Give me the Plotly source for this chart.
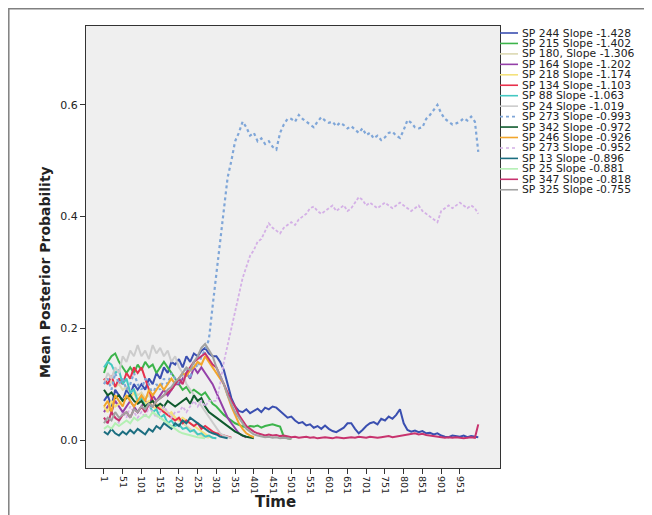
import plotly.graph_objects as go

time_steps = list(range(1, 992, 10)) + [1000]
tick_values = [1, 51, 101, 151, 201, 251, 301, 351, 401, 451, 501, 551, 601, 651, 701, 751, 801, 851, 901, 951]
tick_labels = ["1", "51", "101", "151", "201", "251", "301", "351", "401", "451", "501",
               "551", "601", "651", "701", "751", "801", "851", "901", "951"]
y_tick_values = [0.0, 0.2, 0.4, 0.6]
y_tick_labels = ["0.0", "0.2", "0.4", "0.6"]

sp244 = [0.07, 0.08, 0.06, 0.09, 0.08, 0.07, 0.09, 0.08, 0.10, 0.09,
         0.10, 0.09, 0.11, 0.10, 0.12, 0.11, 0.13, 0.12, 0.14, 0.135,
         0.145, 0.13, 0.15, 0.14, 0.155, 0.15, 0.16, 0.165, 0.155, 0.15,
         0.15, 0.14, 0.125, 0.10, 0.075, 0.06, 0.052, 0.05, 0.055, 0.048,
         0.052, 0.056, 0.05, 0.058, 0.055, 0.06, 0.058, 0.052, 0.047, 0.04,
         0.042, 0.035, 0.03, 0.032, 0.026, 0.028, 0.022, 0.025, 0.02, 0.026,
         0.02, 0.016, 0.014, 0.018, 0.022, 0.03, 0.03, 0.02, 0.012, 0.018,
         0.025, 0.03, 0.032, 0.028, 0.038, 0.035, 0.042, 0.038, 0.045, 0.055,
         0.03, 0.018, 0.015, 0.017, 0.014, 0.016, 0.012, 0.013, 0.01, 0.012,
         0.008, 0.006, 0.005, 0.008, 0.007, 0.006, 0.008, 0.005, 0.007, 0.006,
         0.005]
sp215 = [0.12, 0.14, 0.15, 0.155, 0.14, 0.13, 0.12, 0.13, 0.12, 0.135,
         0.125, 0.14, 0.13, 0.135, 0.12, 0.13, 0.14, 0.13, 0.12, 0.11,
         0.10, 0.09, 0.095, 0.085, 0.09, 0.085, 0.08, 0.085, 0.075, 0.065,
         0.06, 0.052, 0.045, 0.04, 0.035, 0.03, 0.027, 0.025, 0.022, 0.025,
         0.024, 0.026, 0.022, 0.025, 0.027, 0.028, 0.026, 0.024, 0.006, 0.003,
         0.002]
sp180 = [0.11, 0.10, 0.105, 0.095, 0.10, 0.09, 0.095, 0.085, 0.09, 0.08,
         0.085, 0.075, 0.08, 0.07, 0.065, 0.06, 0.055, 0.05, 0.045, 0.04,
         0.035, 0.03, 0.025, 0.02, 0.015, 0.01, 0.008, 0.006, 0.004]
sp164 = [0.05, 0.06, 0.05, 0.07, 0.06, 0.05, 0.06, 0.07, 0.06, 0.05,
         0.06, 0.07, 0.06, 0.08, 0.07, 0.08, 0.09, 0.08, 0.09, 0.10,
         0.10, 0.11, 0.12, 0.11, 0.13, 0.12, 0.13, 0.12, 0.11, 0.10,
         0.085, 0.07, 0.055, 0.04, 0.03, 0.02, 0.012, 0.008, 0.005]
sp218 = [0.06, 0.05, 0.07, 0.06, 0.065, 0.07, 0.08, 0.075, 0.085, 0.07,
         0.08, 0.065, 0.07, 0.06, 0.055, 0.06, 0.05, 0.045, 0.05, 0.04,
         0.035, 0.04, 0.035, 0.03, 0.025, 0.02, 0.015, 0.01, 0.006, 0.004]
sp134 = [0.11, 0.10, 0.115, 0.095, 0.11, 0.10, 0.12, 0.11, 0.13, 0.12,
         0.13, 0.11, 0.09, 0.07, 0.06, 0.055, 0.05, 0.045, 0.04, 0.035,
         0.04, 0.03, 0.035, 0.03, 0.025, 0.03, 0.02, 0.025, 0.02, 0.015,
         0.012, 0.01, 0.008, 0.006, 0.004]
sp88 = [0.13, 0.14, 0.135, 0.12, 0.125, 0.10, 0.11, 0.085, 0.09, 0.07,
        0.075, 0.06, 0.065, 0.05, 0.055, 0.04, 0.045, 0.03, 0.035, 0.025,
        0.028, 0.02, 0.022, 0.015, 0.018, 0.01, 0.012, 0.006, 0.008, 0.004,
        0.003]
sp24 = [0.10, 0.12, 0.11, 0.13, 0.12, 0.15, 0.14, 0.16, 0.15, 0.17,
        0.15, 0.16, 0.145, 0.17, 0.155, 0.165, 0.15, 0.16, 0.14, 0.15,
        0.13, 0.12, 0.10, 0.09, 0.08, 0.07, 0.06, 0.05, 0.04, 0.03,
        0.02, 0.012, 0.008, 0.005, 0.003]
sp273a = [0.10, 0.11, 0.09, 0.12, 0.10, 0.11, 0.09, 0.10, 0.12, 0.10,
          0.09, 0.11, 0.10, 0.08, 0.10, 0.09, 0.11, 0.10, 0.12, 0.11,
          0.10, 0.12, 0.13, 0.11, 0.14, 0.13, 0.15, 0.16, 0.18, 0.24,
          0.30, 0.36, 0.41, 0.47, 0.50, 0.535, 0.55, 0.57, 0.56, 0.545,
          0.55, 0.535, 0.54, 0.53, 0.535, 0.525, 0.52, 0.55, 0.565, 0.575,
          0.575, 0.57, 0.582, 0.575, 0.57, 0.565, 0.56, 0.57, 0.578, 0.572,
          0.568, 0.57, 0.562, 0.568, 0.564, 0.558, 0.562, 0.556, 0.55, 0.558,
          0.546, 0.55, 0.54, 0.545, 0.537, 0.542, 0.55, 0.552, 0.545, 0.541,
          0.555, 0.573, 0.568, 0.56, 0.558, 0.56, 0.575, 0.582, 0.592, 0.60,
          0.585, 0.575, 0.57, 0.565, 0.567, 0.57, 0.576, 0.572, 0.579, 0.57,
          0.516]
sp342 = [0.09, 0.08, 0.085, 0.075, 0.08, 0.07, 0.075, 0.08, 0.07, 0.065,
         0.07, 0.06, 0.065, 0.07, 0.06, 0.065, 0.06, 0.07, 0.065, 0.06,
         0.065, 0.07, 0.075, 0.065, 0.08, 0.07, 0.075, 0.06, 0.05, 0.045,
         0.04, 0.035, 0.03, 0.025, 0.02, 0.015, 0.012, 0.008, 0.006, 0.004,
         0.003]
sp246 = [0.06, 0.07, 0.05, 0.08, 0.07, 0.06, 0.08, 0.07, 0.06, 0.07,
         0.08, 0.07, 0.09, 0.08, 0.09, 0.10, 0.09, 0.10, 0.11, 0.10,
         0.11, 0.12, 0.115, 0.125, 0.13, 0.14, 0.135, 0.15, 0.14, 0.13,
         0.12, 0.11, 0.10, 0.08, 0.06, 0.045, 0.03, 0.02, 0.012, 0.008,
         0.005]
sp273b = [0.04, 0.03, 0.05, 0.04, 0.03, 0.05, 0.04, 0.06, 0.05, 0.04,
          0.05, 0.04, 0.06, 0.05, 0.04, 0.05, 0.06, 0.05, 0.04, 0.05,
          0.05, 0.06, 0.05, 0.06, 0.07, 0.06, 0.07, 0.06, 0.07, 0.07,
          0.07, 0.10, 0.14, 0.17, 0.20, 0.235, 0.26, 0.29, 0.31, 0.33,
          0.34, 0.355, 0.36, 0.375, 0.388, 0.38, 0.375, 0.37, 0.38, 0.385,
          0.39, 0.385, 0.395, 0.40, 0.405, 0.415, 0.418, 0.41, 0.405, 0.41,
          0.415, 0.42, 0.41, 0.415, 0.42, 0.41, 0.415, 0.425, 0.435, 0.43,
          0.42, 0.425, 0.42, 0.415, 0.42, 0.425, 0.42, 0.415, 0.42, 0.425,
          0.42, 0.415, 0.41, 0.415, 0.42, 0.41, 0.405, 0.40, 0.395, 0.39,
          0.41, 0.415, 0.42, 0.415, 0.42, 0.425, 0.42, 0.415, 0.42, 0.415,
          0.405]
sp13 = [0.015, 0.01, 0.02, 0.012, 0.008, 0.015, 0.01, 0.018, 0.012, 0.02,
        0.015, 0.01, 0.02, 0.015, 0.025, 0.02, 0.03, 0.025, 0.02, 0.03,
        0.025, 0.035, 0.03, 0.04, 0.035, 0.03, 0.025, 0.02, 0.015, 0.012,
        0.01, 0.006, 0.004, 0.003]
sp25 = [0.02, 0.025, 0.02, 0.03, 0.025, 0.03, 0.035, 0.03, 0.04, 0.035,
        0.04, 0.045, 0.04, 0.05, 0.045, 0.04, 0.035, 0.03, 0.025, 0.02,
        0.015, 0.012, 0.01, 0.008, 0.006, 0.005, 0.004, 0.003]
sp347 = [0.04, 0.03, 0.05, 0.04, 0.035, 0.045, 0.05, 0.04, 0.055, 0.05,
         0.06, 0.05, 0.065, 0.06, 0.07, 0.075, 0.08, 0.085, 0.09, 0.10,
         0.11, 0.10, 0.12, 0.13, 0.14, 0.145, 0.15, 0.155, 0.145, 0.135,
         0.13, 0.115, 0.10, 0.085, 0.07, 0.06, 0.045, 0.035, 0.025, 0.02,
         0.015, 0.012, 0.01, 0.008, 0.01, 0.008, 0.009, 0.007, 0.008, 0.006,
         0.005, 0.006, 0.004, 0.005, 0.006, 0.004, 0.005, 0.003, 0.004, 0.005,
         0.004, 0.003, 0.005, 0.004, 0.003, 0.004, 0.005, 0.004, 0.006, 0.005,
         0.004, 0.006, 0.005, 0.004, 0.005, 0.006, 0.007, 0.005, 0.006, 0.007,
         0.008, 0.009, 0.011, 0.012, 0.01, 0.011, 0.009, 0.008, 0.007, 0.006,
         0.005, 0.004, 0.005, 0.004, 0.005, 0.004, 0.003, 0.004, 0.005, 0.004,
         0.028]
sp325 = [0.03, 0.04, 0.035, 0.05, 0.04, 0.045, 0.05, 0.04, 0.055, 0.05,
         0.06, 0.055, 0.065, 0.06, 0.07, 0.075, 0.08, 0.09, 0.095, 0.105,
         0.11, 0.12, 0.13, 0.125, 0.14, 0.15, 0.165, 0.172, 0.16, 0.15,
         0.13, 0.115, 0.10, 0.08, 0.065, 0.05, 0.04, 0.03, 0.02, 0.015,
         0.01, 0.008, 0.006, 0.005, 0.006, 0.004, 0.005, 0.003, 0.004, 0.003,
         0.002]

series_names = ["SP 244 Slope -1.428", "SP 215 Slope -1.402", "SP 180, Slope -1.306",
                "SP 164 Slope -1.202", "SP 218 Slope -1.174", "SP 134 Slope -1.103",
                "SP 88 Slope -1.063", "SP 24 Slope -1.019", "SP 273 Slope -0.993",
                "SP 342 Slope -0.972", "SP 246 Slope -0.926", "SP 273 Slope -0.952",
                "SP 13 Slope -0.896", "SP 25 Slope -0.881", "SP 347 Slope -0.818",
                "SP 325 Slope -0.755"]
series_values = [sp244, sp215, sp180, sp164, sp218, sp134, sp88, sp24,
                 sp273a, sp342, sp246, sp273b, sp13, sp25, sp347, sp325]

# ---- styles ----
colors = ["#3a4fb0", "#3cb44b", "#dcd8b2", "#9440a8", "#f4e27c", "#e8304c",
          "#44c8c2", "#cccccc", "#7fa6d8", "#0f5a2e", "#f2a62c", "#d4b0e6",
          "#1c6e80", "#b4f0b4", "#c8336e", "#a2a2a2"]
dashes = ["solid", "solid", "solid", "solid", "solid", "solid", "solid", "solid",
          "dot", "solid", "solid", "3px,2px", "solid", "solid", "solid", "solid"]
widths = [2, 2, 2, 2, 2, 2, 2, 2, 2.2, 2, 2, 1.8, 2, 2, 2, 2]

FONT = "DejaVu Sans"
OFF = 8                      # page body margin of the html
W, H = 652 - OFF, 515 - OFF  # figure size
L, R, T, B = 86 - OFF, 500 - OFF, 26 - OFF, 468 - OFF
pw, ph = R - L, B - T


def px(xpage):
    return (xpage - OFF - L) / pw


def py(ypage):
    return (B - (ypage - OFF)) / ph


fig = go.Figure()
for name, vals, col, dsh, wd in zip(series_names, series_values, colors, dashes, widths):
    fig.add_trace(go.Scatter(
        x=time_steps[:len(vals)], y=vals, mode="lines", name=name,
        line=dict(color=col, width=wd, dash=dsh), showlegend=False,
        hoverinfo="skip"))

shapes = []
annotations = []
# outer frame of the figure (top and left edges visible)
shapes.append(dict(type="rect", xref="paper", yref="paper",
                   x0=px(8.8), x1=px(700), y0=py(560), y1=py(8.8),
                   line=dict(color="#808080", width=1.5), fillcolor="rgba(0,0,0,0)"))

# legend drawn from the series lists
for i, (name, col, dsh) in enumerate(zip(series_names, colors, dashes)):
    yp = py(33 + 10.45 * i)
    shapes.append(dict(type="line", xref="paper", yref="paper",
                       x0=px(500), x1=px(518), y0=yp, y1=yp,
                       line=dict(color=col, width=1.6, dash="dot" if dsh != "solid" else "solid")))
    annotations.append(dict(xref="paper", yref="paper", x=px(520), y=yp,
                            xanchor="left", yanchor="middle", showarrow=False,
                            text=name, font=dict(family=FONT, size=10.8, color="#222222")))

annotations.append(dict(xref="paper", yref="paper", x=px(45), y=py(272),
                        xanchor="center", yanchor="middle", showarrow=False, textangle=-90,
                        text="<b>Mean Posterior Probability</b>",
                        font=dict(family=FONT, size=14, color="#222222")))
annotations.append(dict(xref="paper", yref="paper", x=px(275), y=py(502),
                        xanchor="center", yanchor="middle", showarrow=False,
                        text="<b>Time</b>",
                        font=dict(family=FONT, size=15, color="#222222")))

fig.update_layout(
    width=W, height=H,
    margin=dict(l=L, r=W - R, t=T, b=H - B, pad=0),
    paper_bgcolor="white", plot_bgcolor="#efefef",
    font=dict(family=FONT, size=11, color="#222222"),
    shapes=shapes, annotations=annotations, showlegend=False,
)
fig.update_xaxes(range=[-47, 1058], tickmode="array", tickvals=tick_values, ticktext=tick_labels,
                 tickangle=90, ticks="outside", ticklen=5, tickcolor="#333333",
                 showline=True, linecolor="#333333", linewidth=1, mirror=True,
                 showgrid=False, zeroline=False, tickfont=dict(size=9.5))
fig.update_yaxes(range=[-0.0501, 0.7413], tickmode="array", tickvals=y_tick_values,
                 ticktext=y_tick_labels, ticks="outside", ticklen=5, tickcolor="#333333",
                 showline=True, linecolor="#333333", linewidth=1, mirror=True,
                 showgrid=False, zeroline=False, tickfont=dict(size=11))

fig.write_html("out.html")
